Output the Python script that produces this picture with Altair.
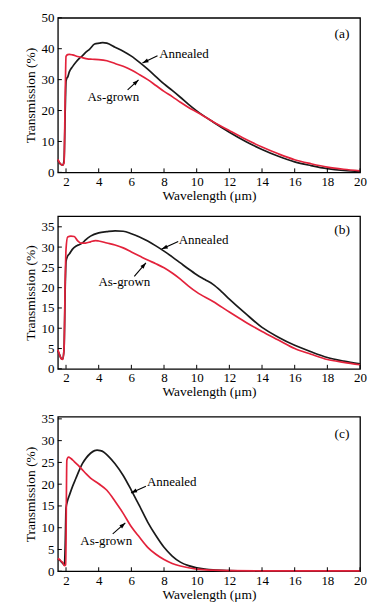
import math
import altair as alt
import pandas as pd

# ---------------- data ----------------
a_ann_x = [1.5, 1.6, 1.7, 1.8, 1.88, 1.95, 2.0, 2.05, 2.1, 2.2, 2.4, 2.6, 2.8, 3.0, 3.2, 3.45, 3.75, 4.05, 4.25, 4.5,
           5.0, 5.5, 6.0, 6.5, 7.0, 7.5, 8.0, 8.5, 9.0, 9.5, 10, 11, 12, 13, 14, 15, 16, 17, 18, 19, 20]
a_ann_y = [4.0, 3.0, 2.5, 2.3, 4, 20, 29.5, 30.5, 30.8, 32.5, 34.2, 35.6, 36.8, 37.7, 38.8, 39.9, 41.5, 41.8, 42.0, 41.8,
           40.5, 39.2, 37.6, 35.6, 33.4, 31.0, 28.6, 26.5, 24.3, 22.0, 19.9, 16.3, 13.0, 10.0, 7.4, 5.2, 3.4, 2.2, 1.2, 0.6, 0.3]
a_grw_x = [1.5, 1.6, 1.7, 1.8, 1.88, 1.95, 2.0, 2.1, 2.2, 2.4, 2.7, 3.0, 3.3, 3.6, 4.0, 4.5, 5.0, 5.5, 6.0, 6.5,
           7.0, 7.5, 8.0, 8.5, 9.0, 9.5, 10, 11, 12, 13, 14, 15, 16, 17, 18, 19, 20]
a_grw_y = [4.2, 3.2, 2.6, 2.3, 3, 25, 37.5, 38.1, 38.2, 38.0, 37.5, 37.1, 36.7, 36.6, 36.5, 36.1, 35.2, 34.3, 33.1, 31.6,
           30.0, 28.1, 26.2, 24.5, 22.7, 21.0, 19.5, 16.4, 13.5, 10.7, 8.2, 6.0, 4.1, 2.8, 1.7, 1.0, 0.5]

b_ann_x = [1.5, 1.6, 1.7, 1.8, 1.88, 1.95, 2.0, 2.1, 2.2, 2.4, 2.6, 2.8, 3.0, 3.2, 3.5, 4.0, 4.5, 5.0, 5.5, 6.0,
           6.5, 7.0, 7.5, 8.0, 8.5, 9.0, 9.5, 10, 10.5, 11, 11.5, 12, 13, 14, 15, 16, 17, 18, 19, 20]
b_ann_y = [4.5, 3.5, 2.6, 2.4, 5, 20, 26.5, 27.8, 28.3, 29.5, 30.2, 30.6, 31.0, 31.8, 32.7, 33.5, 33.8, 34.0, 33.9, 33.3,
           32.5, 31.5, 30.3, 29.0, 27.6, 26.1, 24.6, 23.2, 22.0, 20.8, 19.1, 17.2, 13.6, 10.2, 7.8, 5.8, 4.2, 2.8, 1.9, 1.2]
b_grw_x = [1.5, 1.6, 1.7, 1.8, 1.88, 1.95, 2.0, 2.1, 2.3, 2.5, 2.7, 2.9, 3.2, 3.5, 3.8, 4.0, 4.5, 5.0, 5.5, 6.0,
           6.5, 7.0, 7.5, 8.0, 8.5, 9.0, 9.5, 10, 11, 12, 13, 14, 15, 16, 17, 18, 19, 20]
b_grw_y = [4.7, 3.5, 2.5, 2.3, 5, 22, 29.5, 32.5, 32.7, 32.6, 31.6, 31.0, 31.0, 31.3, 31.6, 31.5, 31.0, 30.5, 29.8, 28.8,
           27.8, 26.8, 25.9, 24.9, 23.6, 22.1, 20.4, 18.9, 16.6, 14.0, 11.5, 9.2, 7.1, 5.0, 3.6, 2.3, 1.6, 1.0]

c_ann_x = [1.5, 1.6, 1.7, 1.8, 1.9, 1.95, 2.0, 2.1, 2.2, 2.4, 2.6, 2.8, 3.0, 3.25, 3.5, 3.75, 3.9, 4.1, 4.3, 4.6,
           5.0, 5.5, 6.0, 6.5, 7.0, 7.5, 8.0, 8.5, 9.0, 9.5, 10, 10.5, 11, 12, 13, 14, 16, 18, 20]
c_ann_y = [2.8, 2.6, 2.2, 1.8, 1.4, 6, 14.5, 16.3, 17.4, 19.5, 21.3, 23.1, 24.7, 26.1, 27.1, 27.7, 27.8, 27.7, 27.4, 26.4,
           24.7, 22.0, 18.6, 15.0, 11.3, 8.2, 5.5, 3.5, 2.1, 1.3, 0.8, 0.5, 0.3, 0.15, 0.1, 0.1, 0.1, 0.1, 0.1]
c_grw_x = [1.5, 1.6, 1.7, 1.8, 1.9, 1.98, 2.05, 2.15, 2.3, 2.5, 2.75, 3.0, 3.25, 3.5, 4.0, 4.5, 5.0, 5.5, 6.0, 6.5,
           7.0, 7.5, 8.0, 8.5, 9.0, 9.5, 10, 11, 12, 14, 16, 18, 20]
c_grw_y = [2.9, 2.7, 2.3, 2.0, 1.3, 1.5, 25.5, 26.2, 25.9, 25.2, 24.3, 23.3, 22.3, 21.4, 20.1, 18.6, 16.1, 13.3, 10.2, 7.8,
           5.5, 3.9, 2.7, 1.8, 1.2, 0.8, 0.5, 0.25, 0.15, 0.1, 0.1, 0.1, 0.1]

series_names = ["Annealed", "As-grown"]
series_colors = ["#1a1a1a", "#e3223b"]
x_ticks = [2, 4, 6, 8, 10, 12, 14, 16, 18, 20]
X_DOMAIN = [1.5, 20]
FONT = "Liberation Serif, Times New Roman, Times, serif"
W = 303

panels = [
    dict(tag="(a)", tag_y=44.8, ymax=50, yticks=[0, 10, 20, 30, 40, 50], h=155,
         ann=(a_ann_x, a_ann_y), grw=(a_grw_x, a_grw_y),
         ann_text=(7.7, 38.3), ann_arrow=(7.6, 37.7, 6.68, 35.4),
         grw_text=(4.9, 24.5), grw_arrow=(5.77, 26.7, 6.44, 29.9)),
    dict(tag="(b)", tag_y=34.1, ymax=37.6, yticks=[0, 5, 10, 15, 20, 25, 30, 35], h=153,
         ann=(b_ann_x, b_ann_y), grw=(b_grw_x, b_grw_y),
         ann_text=(8.9, 31.8), ann_arrow=(8.87, 31.4, 7.86, 29.5),
         grw_text=(5.57, 21.3), grw_arrow=(6.18, 22.8, 6.89, 26.1)),
    dict(tag="(c)", tag_y=31.5, ymax=35.5, yticks=[0, 5, 10, 15, 20, 25, 30, 35], h=155,
         ann=(c_ann_x, c_ann_y), grw=(c_grw_x, c_grw_y),
         ann_text=(6.95, 20.5), ann_arrow=(6.89, 19.5, 5.98, 18.0),
         grw_text=(4.46, 7.0), grw_arrow=(4.86, 8.6, 5.63, 11.1)),
]

AXIS_STYLE = dict(labelFont=FONT, titleFont=FONT, labelFontSize=13, titleFontSize=13.5, labelColor="black",
                  titleColor="black", titleFontWeight="normal", ticks=False, domain=False, grid=False,
                  labelOverlap=False, labelFlush=False)


def make_panel(p):
    H = p["h"]
    xs = alt.Scale(domain=X_DOMAIN, nice=False, zero=False)
    ys = alt.Scale(domain=[0, p["ymax"]], nice=False, zero=False)
    xax = alt.Axis(values=x_ticks, title="Wavelength (μm)", titlePadding=0, labelPadding=3, **AXIS_STYLE)
    yax = alt.Axis(values=p["yticks"], title="Transmission (%)", titlePadding=3, labelPadding=4, **AXIS_STYLE)
    color = alt.Color("series:N", scale=alt.Scale(domain=series_names, range=series_colors), legend=None)

    def X(f):
        return alt.X(f, scale=xs, axis=xax, title="Wavelength (μm)")

    def Y(f):
        return alt.Y(f, scale=ys, axis=yax, title="Transmission (%)")

    rows = []
    for name, (xv, yv) in zip(series_names, [p["ann"], p["grw"]]):
        for i, (xx, yy) in enumerate(zip(xv, yv)):
            rows.append({"series": name, "wl": xx, "T": yy, "order": i})
    df = pd.DataFrame(rows)

    lines = alt.Chart(df).mark_line(strokeWidth=1.7, interpolate="monotone").encode(
        x=X("wl:Q"), y=Y("T:Q"), color=color, order="order:Q")

    tdf = pd.DataFrame([{"wl": p["ann_text"][0], "T": p["ann_text"][1], "label": "Annealed"}])
    gdf = pd.DataFrame([{"wl": p["grw_text"][0], "T": p["grw_text"][1], "label": "As-grown"}])
    ann_txt = alt.Chart(tdf).mark_text(align="left", baseline="middle", font=FONT, fontSize=13, color="black").encode(
        x=X("wl:Q"), y=Y("T:Q"), text="label:N")
    grw_txt = alt.Chart(gdf).mark_text(align="center", baseline="middle", font=FONT, fontSize=13, color="black").encode(
        x=X("wl:Q"), y=Y("T:Q"), text="label:N")
    tag = alt.Chart(pd.DataFrame([{"wl": 18.9, "T": p["tag_y"], "label": p["tag"]}])).mark_text(
        align="center", baseline="middle", font=FONT, fontSize=13.5, color="black").encode(
        x=X("wl:Q"), y=Y("T:Q"), text="label:N")

    arows = []
    for (x0, y0, x1, y1) in [p["ann_arrow"], p["grw_arrow"]]:
        dx = (x1 - x0) * W / (X_DOMAIN[1] - X_DOMAIN[0])
        dy = -(y1 - y0) * H / p["ymax"]
        ang = math.degrees(math.atan2(dx, -dy)) % 360
        arows.append({"wl": x0, "T": y0, "x1": x1, "y1": y1, "ang": ang})
    adf = pd.DataFrame(arows)
    shafts = alt.Chart(adf).mark_rule(color="black", strokeWidth=1.1).encode(
        x=X("wl:Q"), y=Y("T:Q"), x2="x1:Q", y2="y1:Q")
    heads = alt.Chart(adf).mark_point(shape="M0,0L-0.75,2.2L0.75,2.2Z", filled=True, size=30, color="black",
                                      opacity=1, strokeWidth=0).encode(
        x=X("x1:Q"), y=Y("y1:Q"), angle=alt.Angle("ang:Q", scale=None))

    xt = alt.Chart(pd.DataFrame({"wl": x_ticks})).mark_rule(color="black", strokeWidth=1).encode(
        x=X("wl:Q"), y=alt.value(H), y2=alt.value(H - 4))
    yt = alt.Chart(pd.DataFrame({"T": p["yticks"]})).mark_rule(color="black", strokeWidth=1).encode(
        y=Y("T:Q"), x=alt.value(0), x2=alt.value(4))

    return alt.layer(lines, xt, yt, shafts, heads, ann_txt, grw_txt, tag).properties(width=W, height=H)


chart = alt.vconcat(*[make_panel(p) for p in panels], spacing=12).properties(
    padding={"left": 15, "top": 2, "right": 0, "bottom": 0}
).configure_view(
    stroke="black", strokeWidth=1.3
)

chart.save("out.html", embed_options={"renderer": "svg", "actions": False})
